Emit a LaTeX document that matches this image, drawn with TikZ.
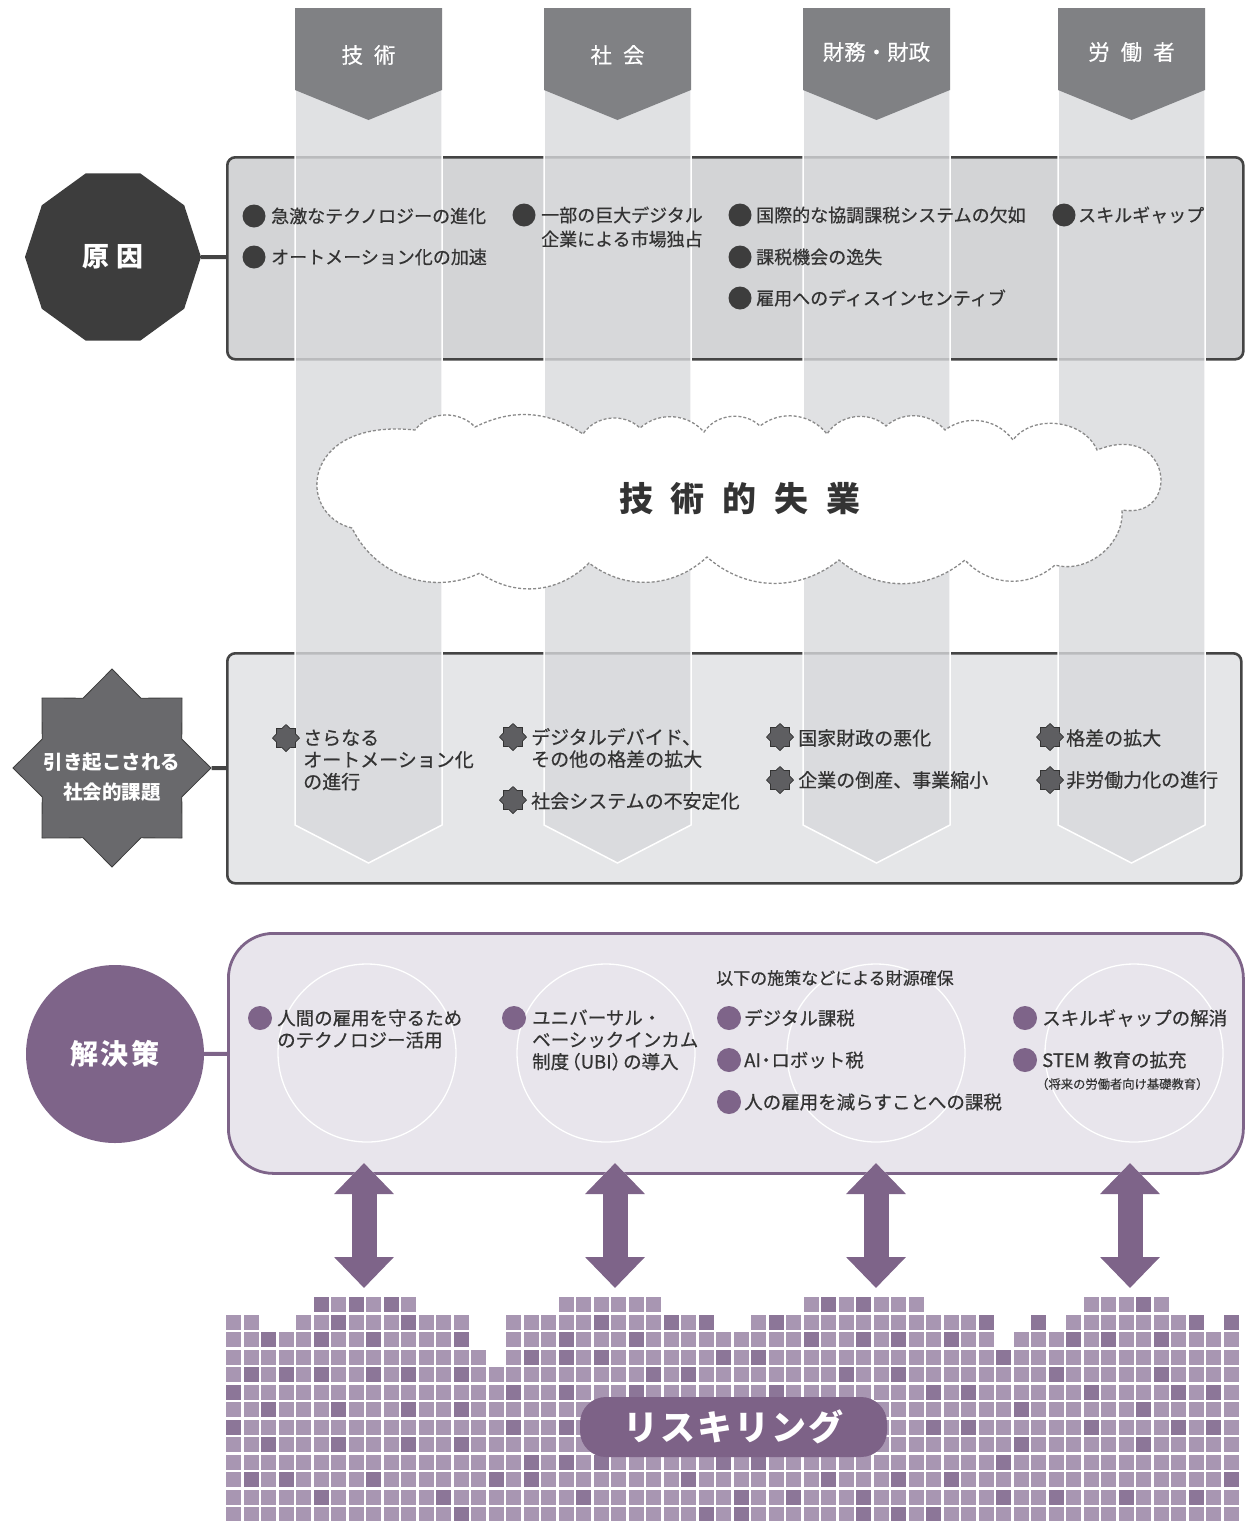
\documentclass[tikz,border=0pt]{standalone}
\usepackage{fontspec}
\setmainfont{Noto Sans CJK JP}
\newfontfamily\medjp{Noto Sans CJK JP}[FakeBold=0.5]
\usetikzlibrary{shapes.geometric,shapes.symbols,arrows.meta}
\definecolor{bandc}{HTML}{D8D9DC}
\definecolor{headc}{HTML}{808184}
\definecolor{causec}{HTML}{3D3D3D}
\definecolor{issuec}{HTML}{69696C}
\definecolor{txtc}{HTML}{333333}
\definecolor{box1c}{HTML}{D3D4D6}
\definecolor{box2c}{HTML}{E5E6E8}
\definecolor{linec}{HTML}{444444}
\definecolor{purp}{HTML}{7E6489}
\definecolor{box3c}{HTML}{E8E5EC}
\definecolor{cellL}{HTML}{A896B2}
\definecolor{cellD}{HTML}{8C7698}
\definecolor{pillc}{HTML}{7D6287}
\definecolor{starb}{HTML}{5E5E61}
\definecolor{cloudc}{HTML}{8A8A8A}
\begin{document}
\begin{tikzpicture}[x=1pt,y=-1pt,
  band/.style={fill=bandc, fill opacity=0.8, draw=white, line width=1.5pt},
  header/.style={fill=headc},
  headtxt/.style={text=white, font=\medjp\fontsize{21.5}{24}\selectfont, inner sep=0pt},
  boxA/.style={draw=linec, line width=2.6pt, fill=box1c, rounded corners=8pt, minimum width=1016pt, minimum height=202pt, anchor=north west, inner sep=0pt},
  boxB/.style={draw=linec, line width=2.6pt, fill=box2c, rounded corners=8pt, minimum width=1014pt, minimum height=230pt, anchor=north west, inner sep=0pt},
  boxC/.style={draw=purp, line width=2.8pt, fill=box3c, rounded corners=45pt, minimum width=1015pt, minimum height=240pt, anchor=north west, inner sep=0pt},
  itemA/.style={text=txtc, font=\medjp\fontsize{18}{24}\selectfont, align=left, inner sep=0pt, anchor=west},
  itemB/.style={text=txtc, font=\medjp\fontsize{19}{22}\selectfont, align=left, inner sep=0pt, anchor=west},
  itemC/.style={text=txtc, font=\medjp\fontsize{18.5}{22}\selectfont, align=left, inner sep=0pt, anchor=west},
  dotA/.style={circle, fill=causec, minimum size=23pt, inner sep=0pt},
  dotC/.style={circle, fill=purp, minimum size=24pt, inner sep=0pt},
  starB/.style={star, star points=8, star point ratio=1.3, minimum size=27pt, inner sep=0pt, fill=starb, draw=txtc, line width=0.7pt},
  conn/.style={draw=linec, line width=4pt},
  connP/.style={draw=purp, line width=4pt},
  cloudline/.style={draw=cloudc, line width=1.3pt, dash pattern=on 3pt off 2pt, fill=white},
  bigarrowW/.style={draw=white, line width=27.5pt, {Triangle[length=33pt,width=62pt]}-{Triangle[length=33pt,width=62pt]}},
  bigarrow/.style={draw=purp, line width=25pt, {Triangle[length=31pt,width=58pt]}-{Triangle[length=31pt,width=58pt]}},
  pill/.style={fill=pillc, rounded corners=26pt, minimum width=307pt, minimum height=60pt, text=white, font=\bfseries\fontsize{35}{35}\selectfont, inner sep=0pt},
]
\useasboundingbox (0,0) rectangle (1246,1521);

% boxes 1 and 2
\node[boxA] (box1) at (226,156) {};
\node[boxB] (box2) at (226,652) {};

% vertical bands
\foreach \xl/\xr in {295/442,544/691,803/950,1058/1205}{
  \path[band] (\xl,8) -- (\xr,8) -- (\xr,825) -- ({(\xl+\xr)/2},863) -- (\xl,825) -- cycle;
  \fill[header] (\xl,8) -- (\xr,8) -- (\xr,90) -- ({(\xl+\xr)/2},120) -- (\xl,90) -- cycle;
}
\node[headtxt] (h1) at (368.5,55) {技\hspace{11pt}術};
\node[headtxt] (h2) at (617.5,55) {社\hspace{11pt}会};
\node[headtxt] (h3) at (876.5,52) {財務・財政};
\node[headtxt] (h4) at (1131.5,52) {労\hspace{11pt}働\hspace{11pt}者};

% cloud
\path[cloudline] (352,528)
  .. controls (296,515) and (300,418) .. (415,430)
  to[bend left=50] (475,427)
  to[bend left=30] (583,434)
  to[bend left=50] (640,428)
  to[bend left=45] (704,432)
  to[bend left=50] (760,426)
  to[bend left=45] (827,434)
  to[bend left=50] (886,426)
  to[bend left=45] (945,430)
  to[bend left=45] (1013,440)
  to[bend left=60] (1097,450)
  .. controls (1172,420) and (1182,520) .. (1122,510)
  to[bend left=55] (1055,565)
  to[bend left=45] (965,560)
  to[bend left=40] (839,560)
  to[bend left=40] (707,557)
  to[bend left=40] (589,563)
  to[bend left=40] (480,573)
  to[bend left=45] (352,528);
\node[text=txtc, font=\bfseries\fontsize{34}{34}\selectfont, inner sep=0pt] (unemp) at (740,499) {技\hspace{18pt}術\hspace{18pt}的\hspace{18pt}失\hspace{18pt}業};

% cause
\node[regular polygon, regular polygon sides=10, minimum size=176pt, fill=causec, inner sep=0pt, text=white, font=\bfseries\fontsize{27}{27}\selectfont] (cause) at (113,257) {原\hspace{7pt}因};
\draw[conn] (cause) -- (box1);

\node[dotA] (c1) at (254,216) {};
\node[itemA] (ct1) at (271,216) {急激なテクノロジーの進化};
\node[dotA] (c2) at (254,257) {};
\node[itemA] (ct2) at (271,257) {オートメーション化の加速};
\node[dotA] (c3) at (524,215) {};
\node[itemA] (ct3) at (541,227) {一部の巨大デジタル\\企業による市場独占};
\node[dotA] (c4) at (740,215) {};
\node[itemA] (ct4) at (756,215) {国際的な協調課税システムの欠如};
\node[dotA] (c5) at (740,257) {};
\node[itemA] (ct5) at (756,257) {課税機会の逸失};
\node[dotA] (c6) at (740,298) {};
\node[itemA] (ct6) at (756,298) {雇用へのディスインセンティブ};
\node[dotA] (c7) at (1064,215) {};
\node[itemA] (ct7) at (1078,215) {スキルギャップ};

% issues
\node[star, star points=8, star point ratio=1.31, minimum size=198pt, inner sep=0pt, fill=issuec, draw=causec, line width=0.8pt] (issues) at (112,768) {};
\node[text=white, font=\bfseries\fontsize{19.5}{30}\selectfont, align=center, inner sep=0pt] (issuestxt) at (112,777) {引き起こされる\\社会的課題};
\draw[conn] (issues) -- (box2);

\node[starB] (s1) at (286,738) {};
\node[itemB] (st1) at (303,760) {さらなる\\オートメーション化\\の進行};
\node[starB] (s2) at (513,737) {};
\node[itemB] (st2) at (531,748) {デジタルデバイド、\\その他の格差の拡大};
\node[starB] (s3) at (513,800) {};
\node[itemB] (st3) at (531,801) {社会システムの不安定化};
\node[starB] (s4) at (780,737) {};
\node[itemB] (st4) at (798,738) {国家財政の悪化};
\node[starB] (s5) at (780,780) {};
\node[itemB] (st5) at (798,780) {企業の倒産、事業縮小};
\node[starB] (s6) at (1050,737) {};
\node[itemB] (st6) at (1066,738) {格差の拡大};
\node[starB] (s7) at (1050,780) {};
\node[itemB] (st7) at (1066,780) {非労働力化の進行};

% solutions
\node[boxC] (box3) at (227,932) {};
\foreach \cx in {367,606,876,1134}{
  \draw[white, line width=1.3pt] (\cx,1053) circle[radius=89];
}
\node[circle, fill=purp, minimum size=178pt, inner sep=0pt, text=white, font=\bfseries\fontsize{28}{28}\selectfont] (sol) at (115,1054) {解\hspace{3pt}決\hspace{3pt}策};
\draw[connP] (sol) -- (box3);

\node[dotC] (p1) at (260,1018) {};
\node[itemC] (pt1) at (277,1029) {人間の雇用を守るため\\のテクノロジー活用};
\node[dotC] (p2) at (514,1018) {};
\node[itemC] (pt2) at (532,1040) {ユニバーサル・\\ベーシックインカム\\制度\kern-7pt（UBI）\kern-7pt の導入};
\node[text=txtc, font=\medjp\fontsize{17}{20}\selectfont, inner sep=0pt, anchor=west] (fund) at (716,978) {以下の施策などによる財源確保};
\node[dotC] (p3) at (729,1018) {};
\node[itemC] (pt3) at (744,1018) {デジタル課税};
\node[dotC] (p4) at (729,1060) {};
\node[itemC] (pt4) at (744,1060) {AI\kern-4pt・\kern-4pt ロボット税};
\node[dotC] (p5) at (729,1102) {};
\node[itemC] (pt5) at (744,1102) {人の雇用を減らすことへの課税};
\node[dotC] (p6) at (1025,1018) {};
\node[itemC] (pt6) at (1042,1018) {スキルギャップの解消};
\node[dotC] (p7) at (1025,1060) {};
\node[itemC] (pt7) at (1042,1060) {STEM 教育の拡充};
\node[text=txtc, font=\medjp\fontsize{12.3}{14}\selectfont, inner sep=0pt, anchor=west] (pt8) at (1036,1084) {（将来の労働者向け基礎教育）};

% arrows
\foreach \i/\cx in {1/364,2/615,3/876,4/1130}{
  \coordinate (at\i) at (\cx,1163);
  \coordinate (ab\i) at (\cx,1288);
  \draw[bigarrowW] (at\i) -- (ab\i);
  \draw[bigarrow] (at\i) -- (ab\i);
}

% grid
\foreach \r/\rl in {0/{5/10,19/24,33/39,49/53},1/{0/1,4/13,16/27,30/43,46/46,48/55,57/57},2/{0/13,16/43,45/57},3/{0/14,16/57},4/{0/57},5/{0/57},6/{0/57},7/{0/57},8/{0/57},9/{0/57},10/{0/57},11/{0/57},12/{0/57}}{
  \foreach \a/\b in \rl {
    \foreach \c in {\a,...,\b} {
      \fill[cellL] ({226+17.5*\c},{1297+17.5*\r}) rectangle +(15,15);
    }
  }
}
\foreach \r/\dl in {0/{5,7,9,34,36,52},1/{6,10,21,25,27,31,43,46,55,57},2/{2,5,8,13,19,23,33,36,38,41,48,50,53},3/{17,19,21,28,30,44},4/{1,3,5,8,10,13,24,26,35,38,47,53},5/{0,16,19,23,31,40,42,49,54,56},6/{2,6,10,13,45,52},7/{0,16,19,40,42,49,54,56},8/{2,6,10,13,45,52},9/{17,19,21,28,30,44},10/{1,3,8,15,17,26,34,38,41,57},11/{5,12,20,29,32,36,44,47,51,55},12/{13,27,29,36,38,40}}{
  \foreach \c in \dl {
    \fill[cellD] ({226+17.5*\c},{1297+17.5*\r}) rectangle +(15,15);
  }
}
\node[pill] (reskill) at (733.5,1427) {リ\hspace{2pt}ス\hspace{2pt}キ\hspace{2pt}リ\hspace{2pt}ン\hspace{2pt}グ};
\end{tikzpicture}
\end{document}
